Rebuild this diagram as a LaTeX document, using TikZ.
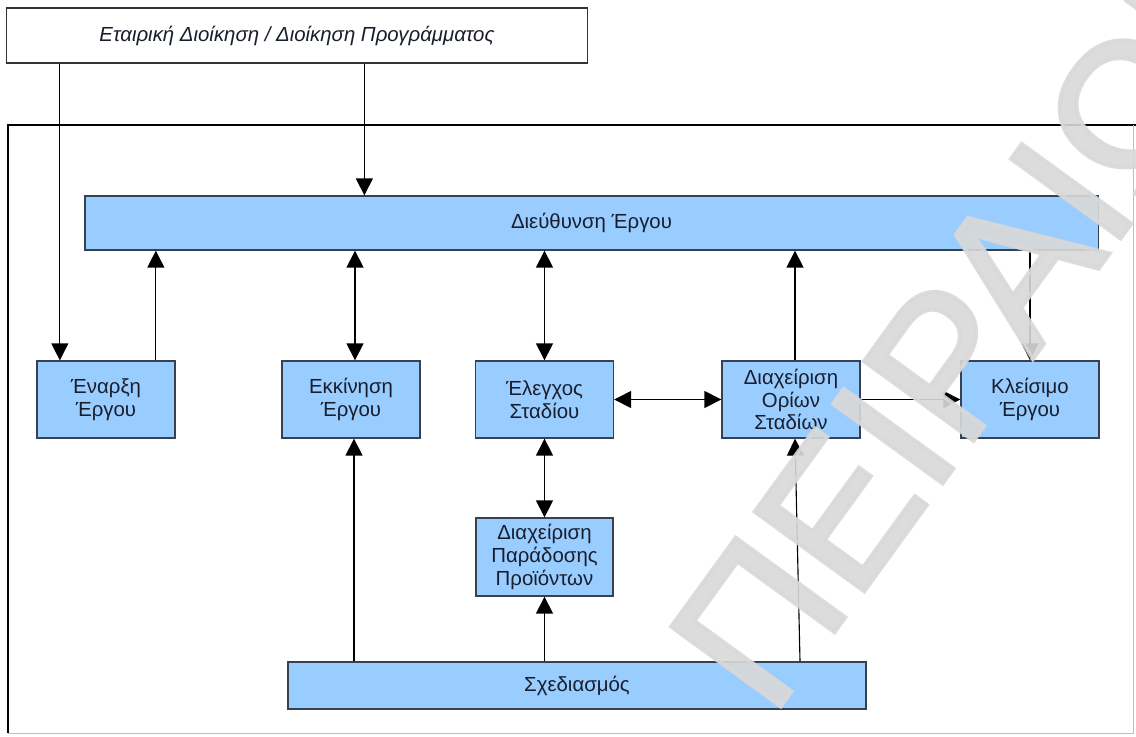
\documentclass[tikz,border=0pt]{standalone}
\usepackage{fontspec}
\setmainfont{Liberation Sans}
\newfontfamily\wmfont[FakeBold=2]{Liberation Sans}
\usetikzlibrary{arrows.meta,calc}
\definecolor{boxfill}{RGB}{153,204,255}
\definecolor{boxline}{RGB}{55,65,80}
\definecolor{txt}{RGB}{25,30,45}
\begin{document}
\begin{tikzpicture}[x=0.025cm,y=-0.025cm,
  box/.style={draw=boxline, line width=0.9pt, fill=boxfill, text=txt, align=center, inner sep=0pt,
    font=\fontsize{14.5}{16.2}\selectfont},
  topbox/.style={draw=black!80, line width=0.8pt, fill=white, text=txt, inner sep=0pt,
    font=\fontsize{14.5}{16}\selectfont\itshape},
  rowbox/.style={box, minimum width=3.45cm, minimum height=1.925cm},
  conn/.style={draw=black, line width=0.8pt},
  arr/.style={conn, -{Triangle[length=12pt,width=12pt]}},
  darr/.style={conn, {Triangle[length=12pt,width=12pt]}-{Triangle[length=12pt,width=12pt]}},
  wm/.style={text=black!15, text opacity=0.9, font=\wmfont\fontsize{140}{140}\selectfont, inner sep=0pt}]
\useasboundingbox (0,0) rectangle (1136,736);
\clip (0,0) rectangle (1136,736);
\fill[white] (0,0) rectangle (1136,736);

% outer frame
\draw[black, line width=0.8pt] (1136,125) -- (8,125) -- (8,733);
\draw[black!25, line width=0.6pt] (8,733) -- (1133,733) -- (1133,125);

% nodes
\node[topbox, minimum width=14.5cm, minimum height=1.375cm] (top) at (297,35.5)
  {Εταιρική Διοίκηση / Διοίκηση Προγράμματος};
\node[box, minimum width=25.325cm, minimum height=1.35cm] (dir) at (591.5,223) {Διεύθυνση Έργου};
\node[rowbox] (enar) at (106,399.5) {Έναρξη\\Έργου};
\node[rowbox] (ekk) at (351,399.5) {Εκκίνηση\\Έργου};
\node[rowbox] (eleg) at (544.5,399.5) {Έλεγχος\\Σταδίου};
\node[rowbox] (orion) at (791,399.5) {Διαχείριση\\Ορίων\\Σταδίων};
\node[rowbox] (kleis) at (1030,399.5) {Κλείσιμο\\Έργου};
\node[box, minimum width=3.425cm, minimum height=1.95cm] (parad) at (544.5,557)
  {Διαχείριση\\Παράδοσης\\Προϊόντων};
\node[box, minimum width=14.45cm, minimum height=1.175cm] (sxed) at (577,685.5) {Σχεδιασμός};

% connectors
\coordinate (c1) at ($(enar.north west)+(23.5,0)$);
\draw[arr] (top.south -| c1) -- (c1);
\coordinate (c2) at ($(top.south west)+(358,0)$);
\draw[arr] (c2) -- (c2 |- dir.north);
\coordinate (c3) at ($(enar.north west)+(119.5,0)$);
\draw[arr] (c3) -- (c3 |- dir.south);
\coordinate (c4) at ($(ekk.north)+(4,0)$);
\draw[darr] (c4 |- dir.south) -- (c4);
\draw[darr] (eleg.north |- dir.south) -- (eleg.north);
\coordinate (c6) at ($(orion.north)+(4,0)$);
\draw[arr] (c6) -- (c6 |- dir.south);
\draw[arr] (kleis.north |- dir.south) -- (kleis.north);
\draw[darr] (eleg.east) -- (orion.west);
\draw[arr] (orion.east) -- (kleis.west);
\draw[darr] (eleg.south) -- (parad.north);
\coordinate (c11) at ($(ekk.south)+(3,0)$);
\draw[arr] (c11 |- sxed.north) -- (c11);
\draw[arr] (parad.south |- sxed.north) -- (parad.south);
\coordinate (c13) at ($(orion.south)+(4,0)$);
\coordinate (c13b) at ($(orion.south)+(9,0)$);
\draw[arr] (c13b |- sxed.north) -- (c13);

% watermark
\node[wm, rotate=54] (wmark) at (980,315) {ΠΕΙΡΑΙΩΣ};
\end{tikzpicture}
\end{document}
